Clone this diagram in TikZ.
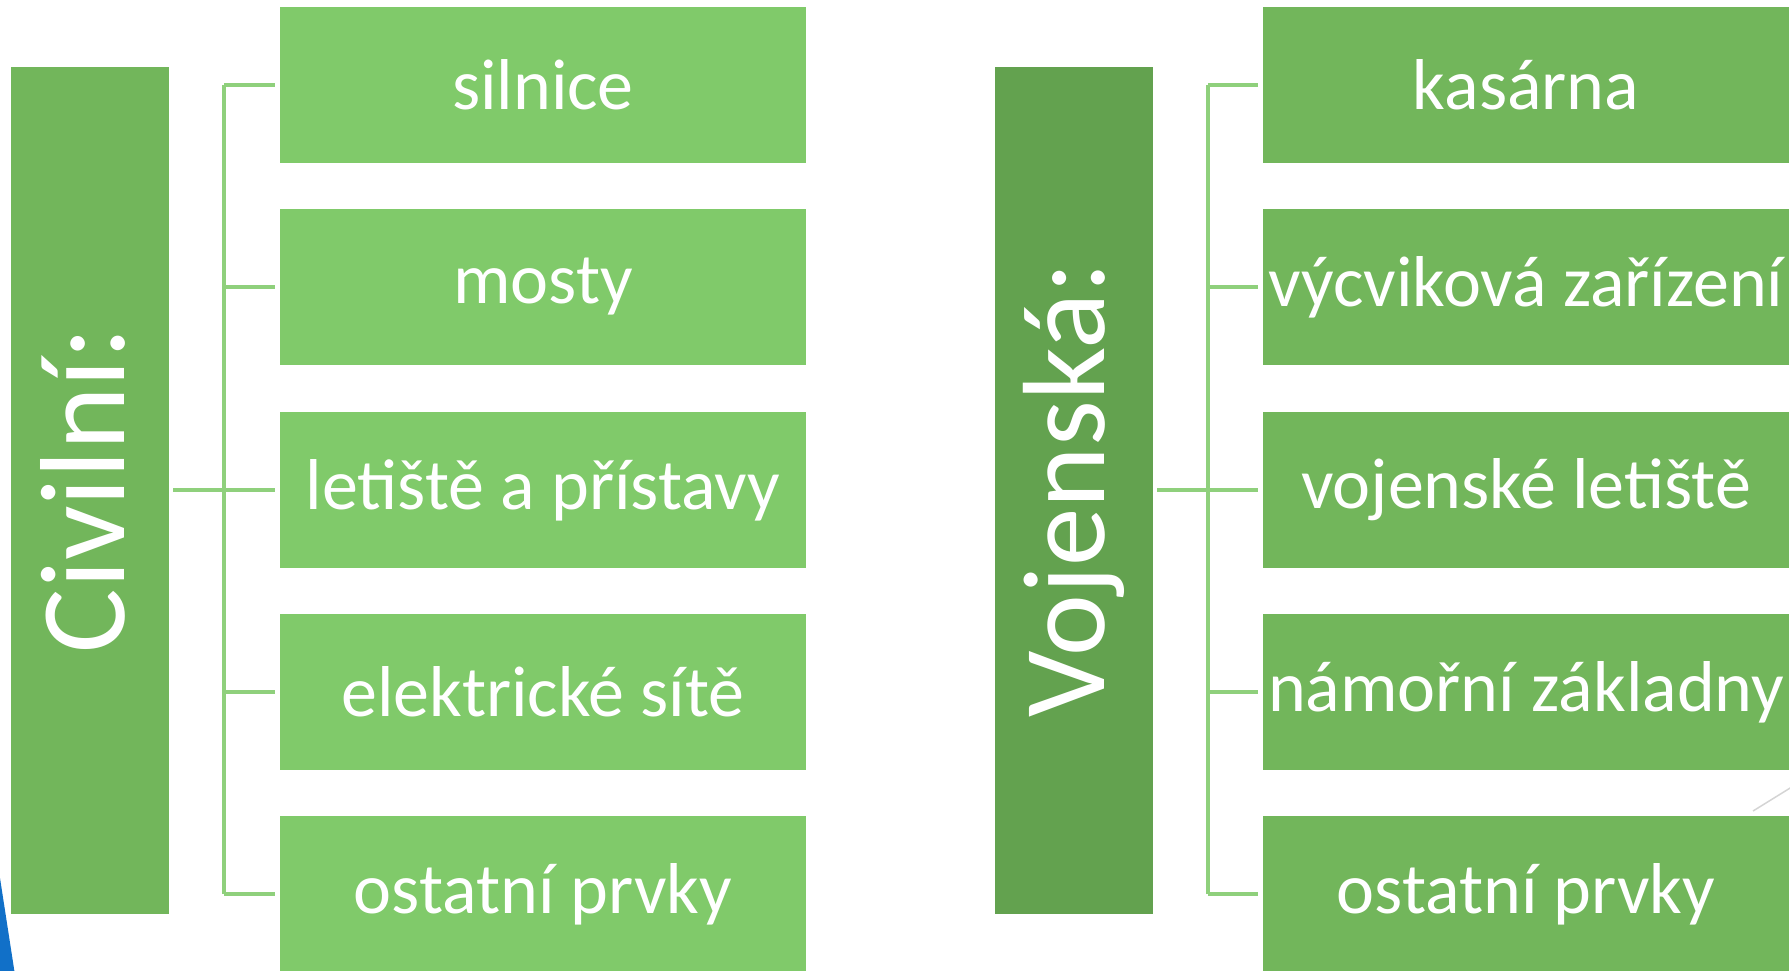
\documentclass[tikz,border=0pt]{standalone}
\usepackage{fontspec}
\setmainfont{Carlito}
\definecolor{headcivil}{HTML}{72B65B}
\definecolor{headmil}{HTML}{63A24F}
\definecolor{itemcivil}{HTML}{80CA6A}
\definecolor{itemmil}{HTML}{72B65B}
\definecolor{connline}{HTML}{8FD07C}
\definecolor{cornerblue}{HTML}{1170C8}
\definecolor{slashgray}{HTML}{D4D4D4}

\begin{document}
\begin{tikzpicture}[x=1pt, y=-1pt,
    every node/.style={inner sep=0pt, text=white},
    head/.style={minimum width=158pt, minimum height=847pt},
    item/.style={minimum width=526pt, minimum height=156pt,
        font=\fontsize{72}{80}\selectfont},
    conn/.style={draw=connline, line width=3.5pt}]
    \useasboundingbox (0,0) rectangle (1790,970);
    \begin{scope}
        \clip (0,0) rectangle (1790,970);
        \fill[cornerblue] (0,878) -- (15,975) -- (0,975) -- cycle;
        \draw[slashgray, line width=1.5pt] (1753,811) -- (1795,785);

        % civilni
        \draw (90, 490) node[head, fill=headcivil](civ){};
        \node[rotate=90, font=\fontsize{121}{130}\selectfont] at (83, 490) {Civilní:};
        \draw (543, 85) node[item, fill=itemcivil](c1){silnice};
        \draw (543, 287) node[item, fill=itemcivil](c2){mosty};
        \draw (543, 490) node[item, fill=itemcivil](c3){letiště a přístavy};
        \draw (543, 692) node[item, fill=itemcivil](c4){elektrické sítě};
        \draw (543, 894) node[item, fill=itemcivil](c5){ostatní prvky};
        \coordinate (cj) at (224, 490);
        \draw[conn, shorten <=4pt] (civ.east) -- (cj);
        \draw[conn] (cj |- c1.west) -- (cj |- c5.west);
        \draw[conn, shorten >=5pt] (cj |- c1.west) -- (c1.west);
        \draw[conn, shorten >=5pt] (cj |- c2.west) -- (c2.west);
        \draw[conn, shorten >=5pt] (cj) -- (c3.west);
        \draw[conn, shorten >=5pt] (cj |- c4.west) -- (c4.west);
        \draw[conn, shorten >=5pt] (cj |- c5.west) -- (c5.west);

        % vojenska
        \draw (1074, 490) node[head, fill=headmil](voj){};
        \node[rotate=90, font=\fontsize{117}{126}\selectfont] at (1074, 490) {Vojenská:};
        \draw (1526, 85) node[item, fill=itemmil](v1){kasárna};
        \draw (1526, 287) node[item, fill=itemmil](v2){výcviková zařízení};
        \draw (1526, 490) node[item, fill=itemmil](v3){vojenské letiště};
        \draw (1526, 692) node[item, fill=itemmil](v4){námořní základny};
        \draw (1526, 894) node[item, fill=itemmil](v5){ostatní prvky};
        \coordinate (vj) at (1208, 490);
        \draw[conn, shorten <=4pt] (voj.east) -- (vj);
        \draw[conn] (vj |- v1.west) -- (vj |- v5.west);
        \draw[conn, shorten >=5pt] (vj |- v1.west) -- (v1.west);
        \draw[conn, shorten >=5pt] (vj |- v2.west) -- (v2.west);
        \draw[conn, shorten >=5pt] (vj) -- (v3.west);
        \draw[conn, shorten >=5pt] (vj |- v4.west) -- (v4.west);
        \draw[conn, shorten >=5pt] (vj |- v5.west) -- (v5.west);
    \end{scope}
\end{tikzpicture}
\end{document}
